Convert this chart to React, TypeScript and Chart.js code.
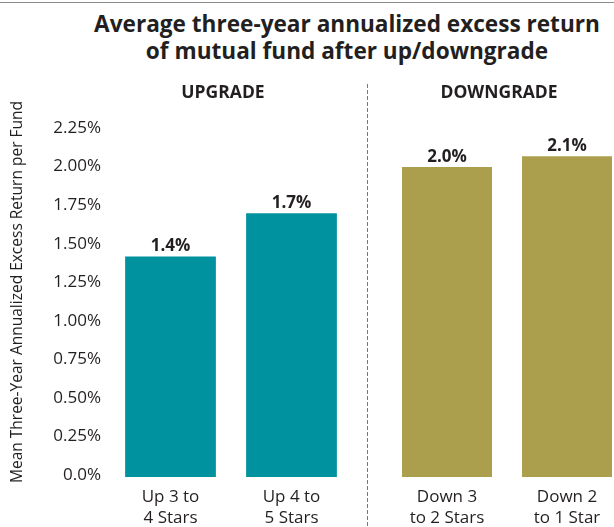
import React, { useEffect, useRef } from "react";
import { Chart, registerables } from "chart.js";

Chart.register(...registerables);

const titleLines = ["Average three-year annualized excess return", "of mutual fund after up/downgrade"];
const yAxisTitle = "Mean Three-Year Annualized Excess Return per Fund";
const groupNames = ["UPGRADE", "DOWNGRADE"];
const upgradeCategories = [["Up 3 to", "4 Stars"], ["Up 4 to", "5 Stars"]];
const upgradeValues = [1.43, 1.71];
const downgradeCategories = [["Down 3", "to 2 Stars"], ["Down 2", "to 1 Star"]];
const downgradeValues = [2.01, 2.08];
const yTickValues = [0, 0.25, 0.5, 0.75, 1, 1.25, 1.5, 1.75, 2, 2.25];
const yTickLabels = ["0.0%", "0.25%", "0.50%", "0.75%", "1.00%", "1.25%", "1.50%", "1.75%", "2.00%", "2.25%"];

const FONT = "'Open Sans', 'Noto Sans', sans-serif";
const INK = "#231f20";
const TEAL = "#00929f";
const OLIVE = "#ab9f4e";

const valueLabelPlugin = {
  id: "valueLabels",
  afterDatasetsDraw(chart: any) {
    const ctx = chart.ctx;
    const meta = chart.getDatasetMeta(0);
    const data = chart.data.datasets[0].data as number[];
    ctx.save();
    ctx.font = `bold 17px ${FONT}`;
    ctx.fillStyle = INK;
    ctx.textAlign = "center";
    ctx.textBaseline = "alphabetic";
    meta.data.forEach((bar: any, i: number) => {
      ctx.fillText(data[i].toFixed(1) + "%", bar.x, bar.y - 5);
    });
    ctx.restore();
  },
};

const headerPlugin = {
  id: "groupHeader",
  afterDraw(chart: any, _args: any, opts: any) {
    const ctx = chart.ctx;
    const a = chart.chartArea;
    ctx.save();
    ctx.font = `bold 17.5px ${FONT}`;
    ctx.fillStyle = INK;
    ctx.textAlign = "center";
    ctx.textBaseline = "middle";
    ctx.fillText(opts.text, (a.left + a.right) / 2 - 8, 93);
    if (opts.divider) {
      ctx.strokeStyle = "#777";
      ctx.lineWidth = 1;
      ctx.setLineDash([4, 2]);
      ctx.beginPath();
      ctx.moveTo(0.5, 84);
      ctx.lineTo(0.5, chart.height);
      ctx.stroke();
    }
    if (opts.yTitle) {
      ctx.font = `15.5px ${FONT}`;
      ctx.translate(18, 292);
      ctx.rotate(-Math.PI / 2);
      ctx.fillText(opts.yTitle, 0, 0);
    }
    ctx.restore();
  },
};

function makeConfig(labels: string[][], values: number[], color: string, header: string, showY: boolean, padLeft: number, padRight: number): any {
  const yScale: any = {
    display: showY,
    min: 0,
    max: yTickValues[yTickValues.length - 1],
    afterBuildTicks: (scale: any) => {
      scale.ticks = yTickValues.map((v) => ({ value: v }));
    },
    ticks: {
      callback: (v: number) => yTickLabels[yTickValues.indexOf(v)] ?? "",
      font: { family: FONT, size: 17 },
      color: INK,
      padding: 9,
      labelOffset: -2,
    },
    grid: { display: false, drawTicks: false },
    border: { display: false },
  };
  if (showY) {
    yScale.afterFit = (scale: any) => {
      scale.width = 110;
    };
  }
  return {
    type: "bar",
    data: {
      labels,
      datasets: [
        {
          data: values,
          backgroundColor: color,
          barPercentage: 0.75,
          categoryPercentage: 1,
        },
      ],
    },
    options: {
      responsive: false,
      animation: false,
      layout: { padding: { top: 130, left: padLeft, right: padRight, bottom: 0 } },
      plugins: {
        legend: { display: false },
        tooltip: { enabled: false },
        title: { display: false },
        groupHeader: { text: header, divider: !showY, yTitle: showY ? yAxisTitle : "" },
      },
      scales: {
        x: {
          type: "category",
          grid: { display: false, drawTicks: false },
          border: { display: false },
          ticks: {
            font: { family: FONT, size: 17, lineHeight: 1.22 },
            color: INK,
            padding: 10,
            maxRotation: 0,
            autoSkip: false,
          },
          afterFit: (scale: any) => {
            scale.height = 50;
          },
        },
        y: yScale,
      },
    },
    plugins: [valueLabelPlugin, headerPlugin],
  };
}

function BarPanel(props: { config: any; width: number; left: number }) {
  const ref = useRef<HTMLCanvasElement>(null);
  useEffect(() => {
    if (!ref.current) return;
    const chart = new Chart(ref.current, props.config);
    return () => chart.destroy();
  }, []);
  return (
    <canvas
      ref={ref}
      width={props.width}
      height={527}
      style={{ position: "absolute", left: props.left, top: 0, width: props.width, height: 527 }}
    />
  );
}

export default function App() {
  const leftConfig = makeConfig(upgradeCategories, upgradeValues, TEAL, groupNames[0], true, 0, 15);
  const rightConfig = makeConfig(downgradeCategories, downgradeValues, OLIVE, groupNames[1], false, 20, 13);
  return (
    <div
      style={{
        position: "fixed",
        left: 0,
        top: 0,
        width: 614,
        height: 527,
        overflow: "hidden",
        background: "#fff",
      }}
    >
      <div style={{ position: "absolute", left: 0, top: 2, width: 614, borderTop: "1px solid #8c8c8c" }} />
      <div
        style={{
          position: "absolute",
          left: 0,
          top: 10,
          width: 694,
          textAlign: "center",
          fontFamily: FONT,
          fontWeight: 700,
          fontSize: 22.6,
          lineHeight: "27px",
          color: INK,
          whiteSpace: "nowrap",
        }}
      >
        {titleLines.map((t) => (
          <div key={t}>{t}</div>
        ))}
      </div>
      <BarPanel config={leftConfig} width={367} left={0} />
      <BarPanel config={rightConfig} width={273} left={367} />
    </div>
  );
}
